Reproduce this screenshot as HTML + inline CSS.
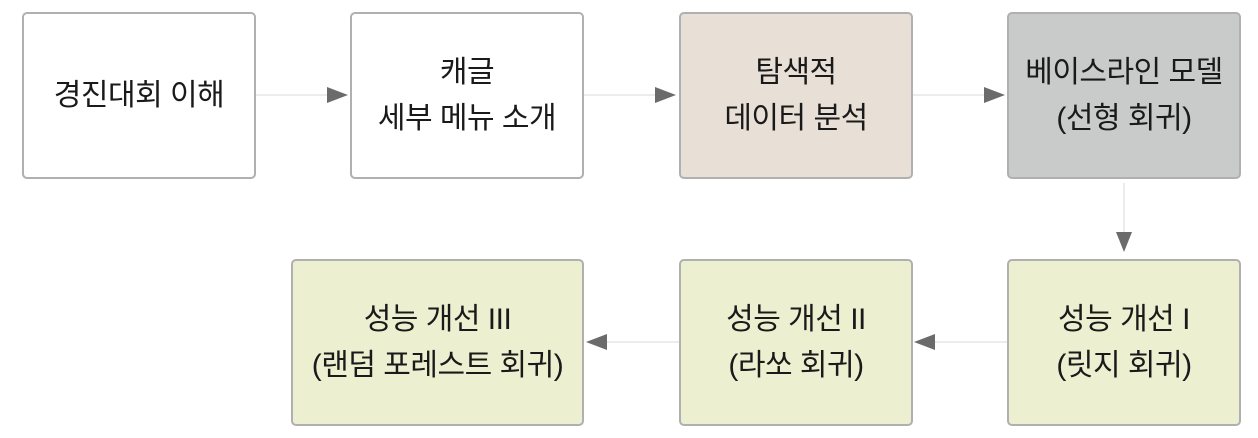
<!DOCTYPE html>
<html><head><meta charset="utf-8"><style>
body{margin:0;width:1258px;height:438px;background:#fff;position:relative;overflow:hidden;font-family:"Liberation Sans","Noto Sans CJK KR",sans-serif;}
.b{position:absolute;box-sizing:border-box;border:2px solid #b0b0b0;border-radius:5px;display:flex;align-items:center;justify-content:center;text-align:center;font-size:30px;line-height:46px;color:#1a1a1a;letter-spacing:-0.5px;}
</style></head><body>
<div class="b" style="left:22px;top:12px;width:234px;height:167px;background:#fff">경진대회 이해</div>
<div class="b" style="left:350px;top:12px;width:234px;height:167px;background:#fff">캐글<br>세부 메뉴 소개</div>
<div class="b" style="left:679px;top:12px;width:234px;height:167px;background:#e8e0d6">탐색적<br>데이터 분석</div>
<div class="b" style="left:1007px;top:12px;width:234px;height:167px;background:#c9caca">베이스라인 모델<br>(선형 회귀)</div>
<div class="b" style="left:1007px;top:259px;width:234px;height:167px;background:#ecf0d0">성능 개선 I<br>(릿지 회귀)</div>
<div class="b" style="left:679px;top:259px;width:234px;height:167px;background:#ecf0d0">성능 개선 II<br>(라쏘 회귀)</div>
<div class="b" style="left:291px;top:259px;width:293px;height:167px;background:#ecf0d0">성능 개선 III<br>(랜덤 포레스트 회귀)</div>
<svg width="1258" height="438" style="position:absolute;left:0;top:0">
<g stroke="#ececec" stroke-width="2">
<line x1="256" y1="95" x2="330" y2="95"/>
<line x1="584" y1="95" x2="658" y2="95"/>
<line x1="913" y1="95" x2="987" y2="95"/>
<line x1="1124" y1="183" x2="1124" y2="235"/>
<line x1="1007" y1="342" x2="930" y2="342"/>
<line x1="679" y1="342" x2="602" y2="342"/>
</g>
<g fill="#6b6b6b">
<polygon points="327,87 348,95 327,103"/>
<polygon points="655,87 676,95 655,103"/>
<polygon points="984,87 1005,95 984,103"/>
<polygon points="1116,232 1124,252 1132,232"/>
<polygon points="935,334 914,342 935,350"/>
<polygon points="607,334 586,342 607,350"/>
</g>
</svg>
</body></html>
